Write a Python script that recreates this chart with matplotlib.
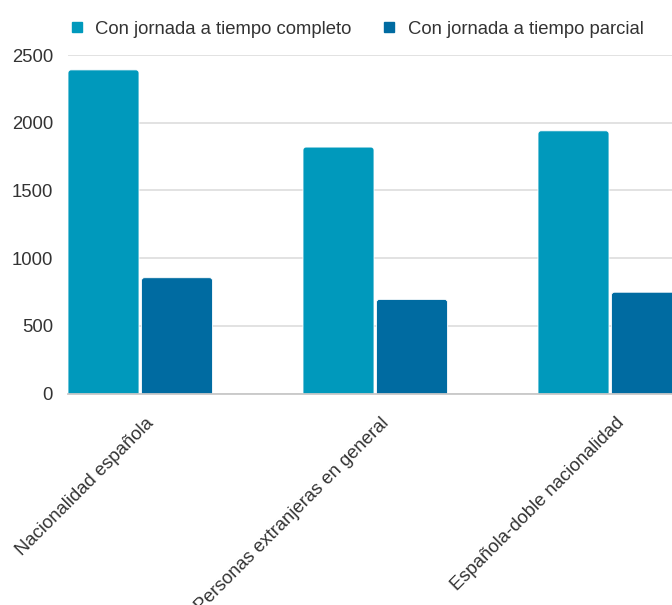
import matplotlib
matplotlib.use("Agg")
import matplotlib.pyplot as plt
from matplotlib.patches import FancyBboxPatch
from matplotlib.lines import Line2D
from matplotlib.transforms import ScaledTranslation

categories = ["Nacionalidad española", "Personas extranjeras en general", "Española-doble nacionalidad"]
series_names = ["Con jornada a tiempo completo", "Con jornada a tiempo parcial"]
completo = [2390, 1820, 1940]
parcial = [855, 695, 748]
yticks = [0, 500, 1000, 1500, 2000, 2500]
colors = ["#0099BC", "#006BA1"]

plt.rcParams["font.family"] = ["Liberation Sans", "DejaVu Sans"]
TXT = "#333333"
FS = 13.3

W, H = 672, 605
fig = plt.figure(figsize=(W / 100, H / 100), dpi=100)
ax_left, ax_right, ax_top, ax_bottom = 68, 672, 55, 393.5
ax = fig.add_axes([ax_left / W, 1 - ax_bottom / H, (ax_right - ax_left) / W, (ax_bottom - ax_top) / H])

group_px = 235.0
bar_w = 71 / group_px
gap = 2.5 / group_px
x = list(range(len(categories)))
offs = (bar_w + gap) / 2

bars_all = []
for vals, col, sgn in [(completo, colors[0], -1), (parcial, colors[1], 1)]:
    bc = ax.bar([i + sgn * offs for i in x], vals, width=bar_w, color=col, alpha=0)
    bars_all.append((bc, col))

ax.set_ylim(0, 2500)
left_edge = -(offs + bar_w / 2)
ax.set_xlim(left_edge, left_edge + (ax_right - ax_left) / group_px)

# rounded-top bars built from the bar geometry
px_y = 2500 / (ax_bottom - ax_top)
px_x = 1 / group_px
r_px = 3.0
for bc, col in bars_all:
    for p in bc.patches:
        bx, bw, bh = p.get_x(), p.get_width(), p.get_height()
        ext = r_px * px_y
        fp = FancyBboxPatch((bx, -ext), bw, bh + ext,
                            boxstyle=f"round,pad=0,rounding_size={r_px * px_x}",
                            mutation_aspect=px_y / px_x,
                            facecolor=col, edgecolor="white", linewidth=0.6, zorder=3)
        ax.add_patch(fp)

ax.set_yticks(yticks)
ax.set_yticklabels([str(t) for t in yticks], color=TXT, fontsize=FS)
ax.grid(axis="y", color="#dddddd", linewidth=1.2, zorder=0)
ax.set_axisbelow(True)
for s in ["top", "right", "left"]:
    ax.spines[s].set_visible(False)
ax.spines["bottom"].set_color("#c8c8c8")
ax.spines["bottom"].set_linewidth(1.3)
ax.spines["bottom"].set_zorder(4)
ax.tick_params(axis="y", length=0, pad=10.8)
ax.tick_params(axis="x", length=0, pad=0)

ax.set_xticks(x)
ax.set_xticklabels(categories, rotation=45, ha="right", va="center",
                   rotation_mode="anchor", color=TXT, fontsize=FS)
for lab in ax.get_xticklabels():
    lab.set_transform(lab.get_transform() + ScaledTranslation(11 / 100, -27 / 100, fig.dpi_scale_trans))

handles = [Line2D([], [], marker="s", linestyle="none", markersize=6.5,
                  markerfacecolor=c, markeredgecolor=c) for c in colors]
fig.legend(handles, series_names, loc="center left", bbox_to_anchor=(71 / W, 1 - 29 / H),
           ncol=2, frameon=False, fontsize=FS, labelcolor=TXT,
           handlelength=0.6, handletextpad=0.7, columnspacing=1.75, borderpad=0, borderaxespad=0)

fig.savefig("out.png", dpi=100)
